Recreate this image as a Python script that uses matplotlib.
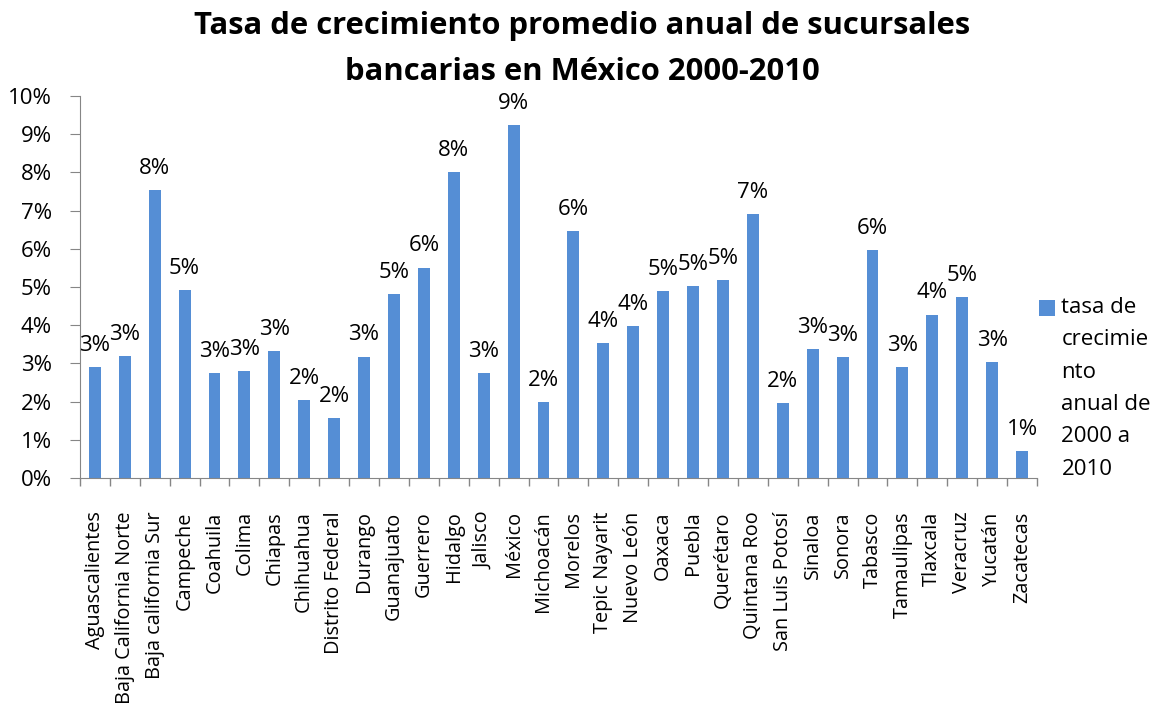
import matplotlib.pyplot as plt
import numpy as np
from matplotlib.ticker import PercentFormatter, FixedLocator
from matplotlib.patches import Rectangle

plt.rcParams['font.family'] = ['Open Sans', 'DejaVu Sans']

# estados y tasa de crecimiento promedio anual (2000-2010)
estados = ['Aguascalientes', 'Baja California Norte', 'Baja california Sur', 'Campeche',
           'Coahuila', 'Colima', 'Chiapas', 'Chihuahua', 'Distrito Federal', 'Durango',
           'Guanajuato', 'Guerrero', 'Hidalgo', 'Jalisco', 'México', 'Michoacán', 'Morelos',
           'Tepic Nayarit', 'Nuevo León', 'Oaxaca', 'Puebla', 'Querétaro', 'Quintana Roo',
           'San Luis Potosí', 'Sinaloa', 'Sonora', 'Tabasco', 'Tamaulipas', 'Tlaxcala',
           'Veracruz', 'Yucatán', 'Zacatecas']
tasa = [0.0291, 0.0319, 0.0754, 0.0492, 0.0274, 0.0281, 0.0333, 0.0204, 0.0158, 0.0318,
        0.0481, 0.0551, 0.0800, 0.0274, 0.0924, 0.0198, 0.0647, 0.0353, 0.0397, 0.0490,
        0.0503, 0.0518, 0.0690, 0.0197, 0.0337, 0.0316, 0.0596, 0.0291, 0.0428, 0.0473,
        0.0303, 0.0071]
serie = 'tasa de\ncrecimie\nnto\nanual de\n2000 a\n2010'

azul = '#558ed5'
gris = '#868686'


# cuadrito de la leyenda alineado con la primera linea (como en excel)
class TopSquare:
    def __init__(self, top):
        self.top = top

    def legend_artist(self, legend, orig_handle, fontsize, handlebox):
        s = handlebox.width
        p = Rectangle((-handlebox.xdescent, self.top - s), s, s,
                      facecolor=azul, edgecolor='none',
                      transform=handlebox.get_transform())
        handlebox.add_artist(p)
        return p


fig = plt.figure(figsize=(11.58, 7.04), dpi=100)
ax = fig.add_axes([0.069, 0.321, 0.8265, 0.5426])

x = np.arange(len(estados))
bars = ax.bar(x, tasa, width=0.4, color=azul, label=serie)

for b, v in zip(bars, tasa):
    ax.annotate('{:.0%}'.format(v), (b.get_x() + b.get_width() / 2, v),
                xytext=(0, 8), textcoords='offset points',
                ha='center', va='bottom', fontsize=16)

ax.set_xlim(-0.5, len(estados) - 0.5)
ax.set_ylim(0, 0.10)
ax.set_yticks(np.arange(0, 0.101, 0.01))
ax.yaxis.set_major_formatter(PercentFormatter(1.0, decimals=0))
ax.set_xticks(x)
ax.set_xticklabels(estados, rotation=90, fontsize=14.3)
ax.xaxis.set_minor_locator(FixedLocator(np.arange(-0.5, len(estados), 1)))
ax.tick_params(axis='x', which='major', length=0, pad=24)
ax.tick_params(axis='x', which='minor', length=6, color=gris, width=1)
ax.tick_params(axis='y', length=7, color=gris, labelsize=16, pad=13)

for s in ['top', 'right']:
    ax.spines[s].set_visible(False)
for s in ['left', 'bottom']:
    ax.spines[s].set_color(gris)

fig.suptitle('Tasa de crecimiento promedio anual de sucursales\nbancarias en México 2000-2010',
             x=0.503, y=0.985, fontsize=22.3, fontweight='bold', linespacing=1.7)

leg = ax.legend(handles=[bars], labels=[serie], loc='center left',
                bbox_to_anchor=(1.0, 0.235), frameon=False,
                fontsize=16, handlelength=0.7, handleheight=0.7, handletextpad=0.3,
                borderaxespad=0, borderpad=0.1,
                handler_map={type(bars): TopSquare(69)})
for t in leg.get_texts():
    t.set_linespacing(1.71)

fig.savefig('out.png', dpi=100)
